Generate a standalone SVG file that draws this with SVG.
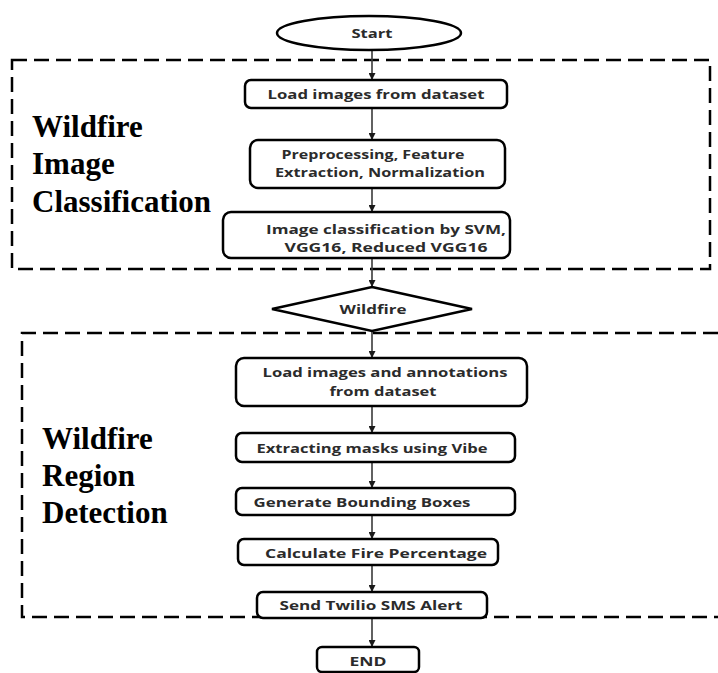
<svg xmlns="http://www.w3.org/2000/svg" width="718" height="673" viewBox="0 0 718 673">
<style>
.bg{fill:#ffffff}
.box{fill:#ffffff;stroke:#000000;stroke-width:2.5}
.dash{fill:none;stroke:#000000;stroke-width:2.5;stroke-dasharray:15 7}
.t{font-family:"Open Sans","DejaVu Sans",sans-serif;font-weight:700;font-size:12.5px;fill:#2b2b2b;text-anchor:middle}
.lbl{font-family:"Liberation Serif","Times New Roman",serif;font-weight:700;font-size:31px;fill:#000000}
.c{stroke:#3a3a3a;stroke-width:1.6;fill:none;marker-end:url(#ah)}
</style>
<defs>
<marker id="ah" viewBox="0 0 10 10" refX="10" refY="5" markerWidth="7" markerHeight="7" markerUnits="userSpaceOnUse" orient="auto">
<path d="M0,0 L10,5 L0,10 z" fill="#1a1a1a"/>
</marker>
</defs>
<rect class="bg" x="0" y="0" width="718" height="673"/>

<g id="regions">
<rect class="dash" x="12" y="60" width="698" height="209"/>
<path class="dash" d="M718,333 L22,333 L22,617 L718,617"/>
<text class="lbl" x="32" y="137">Wildfire</text>
<text class="lbl" x="32" y="174">Image</text>
<text class="lbl" x="32" y="212">Classification</text>
<text class="lbl" x="42" y="449">Wildfire</text>
<text class="lbl" x="42" y="486">Region</text>
<text class="lbl" x="42" y="523">Detection</text>
</g>

<g id="connectors">
<line class="c" x1="372" y1="50" x2="372" y2="80"/>
<line class="c" x1="372" y1="108" x2="372" y2="140"/>
<line class="c" x1="372" y1="188" x2="372" y2="212"/>
<line class="c" x1="372" y1="258" x2="372" y2="287"/>
<line class="c" x1="372" y1="331" x2="372" y2="358"/>
<line class="c" x1="372" y1="406" x2="372" y2="433"/>
<line class="c" x1="372" y1="462" x2="372" y2="488"/>
<line class="c" x1="372" y1="515" x2="372" y2="539"/>
<line class="c" x1="372" y1="565" x2="372" y2="592"/>
<line class="c" x1="372" y1="618" x2="372" y2="647"/>
</g>

<g id="start">
<ellipse class="box" cx="369" cy="33" rx="92" ry="17"/>
<text class="t" x="372" y="38" textLength="41" lengthAdjust="spacingAndGlyphs">Start</text>
</g>

<g id="load">
<rect class="box" x="245" y="80" width="262" height="28" rx="6"/>
<text class="t" x="376" y="99" textLength="217" lengthAdjust="spacingAndGlyphs">Load images from dataset</text>
</g>

<g id="preprocess">
<rect class="box" x="250" y="140" width="255" height="48" rx="8"/>
<text class="t" x="373" y="159" textLength="183" lengthAdjust="spacingAndGlyphs">Preprocessing, Feature</text>
<text class="t" x="380" y="177" textLength="210" lengthAdjust="spacingAndGlyphs">Extraction, Normalization</text>
</g>

<g id="classify">
<rect class="box" x="223" y="212" width="287" height="46" rx="8"/>
<text class="t" x="386" y="234" textLength="240" lengthAdjust="spacingAndGlyphs">Image classification by SVM,</text>
<text class="t" x="386" y="252" textLength="203" lengthAdjust="spacingAndGlyphs">VGG16, Reduced VGG16</text>
</g>

<g id="wildfire">
<polygon class="box" points="372,287 472,309 372,331 272,309"/>
<text class="t" x="373" y="314" textLength="67" lengthAdjust="spacingAndGlyphs">Wildfire</text>
</g>

<g id="loadann">
<rect class="box" x="236" y="358" width="291" height="48" rx="8"/>
<text class="t" x="385" y="377" textLength="245" lengthAdjust="spacingAndGlyphs">Load images and annotations</text>
<text class="t" x="383" y="396" textLength="107" lengthAdjust="spacingAndGlyphs">from dataset</text>
</g>

<g id="masks">
<rect class="box" x="236" y="433" width="279" height="29" rx="6"/>
<text class="t" x="372" y="453" textLength="231" lengthAdjust="spacingAndGlyphs">Extracting masks using Vibe</text>
</g>

<g id="bbox">
<rect class="box" x="236" y="488" width="279" height="27" rx="6"/>
<text class="t" x="362" y="507" textLength="217" lengthAdjust="spacingAndGlyphs">Generate Bounding Boxes</text>
</g>

<g id="percent">
<rect class="box" x="238" y="539" width="260" height="26" rx="6"/>
<text class="t" x="376" y="558" textLength="222" lengthAdjust="spacingAndGlyphs">Calculate Fire Percentage</text>
</g>

<g id="sms">
<rect class="box" x="257" y="592" width="230" height="26" rx="6"/>
<text class="t" x="371" y="610" textLength="183" lengthAdjust="spacingAndGlyphs">Send Twilio SMS Alert</text>
</g>

<g id="end">
<rect class="box" x="317" y="647" width="102" height="25" rx="5"/>
<text class="t" x="368" y="666" textLength="37" lengthAdjust="spacingAndGlyphs">END</text>
</g>
</svg>
